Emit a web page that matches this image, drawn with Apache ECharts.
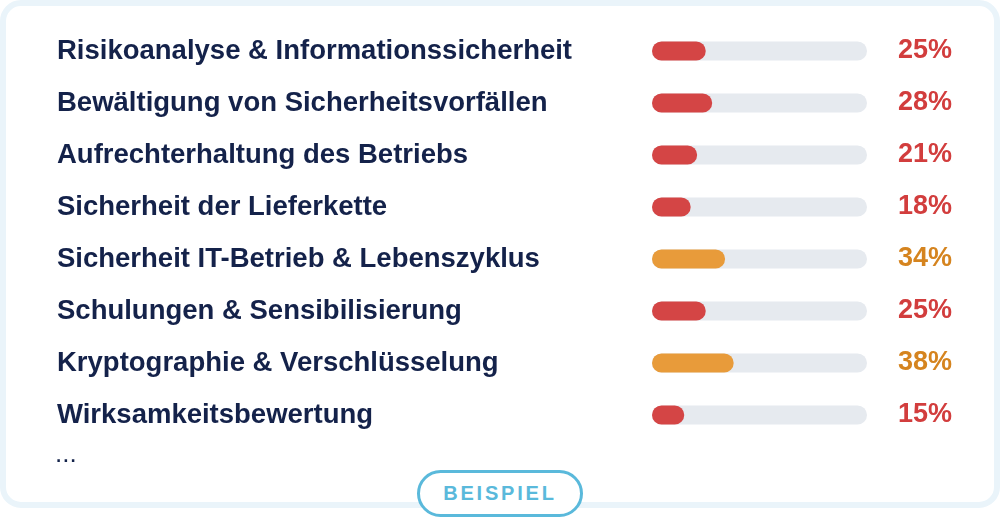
<!DOCTYPE html>
<html>
<head>
<meta charset="utf-8">
<script src="https://cdn.jsdelivr.net/npm/echarts@6/dist/echarts.min.js"></script>
<style>
html,body{margin:0;padding:0;background:#fff;}
#wrap{position:relative;width:1000px;height:518px;}
#chart{width:1000px;height:518px;}
.pill{position:absolute;left:417px;top:470px;width:160px;height:41px;border:3px solid #5ab9db;border-radius:24px;background:#fff;
  font:bold 20px "Liberation Sans",Arial,sans-serif;color:#5ab9db;letter-spacing:2.8px;text-align:center;line-height:41px;}
</style>
</head>
<body>
<div id="wrap">
  <div id="chart"></div>
  <div class="pill">BEISPIEL</div>
</div>
<script type="text/javascript">
// Kategorien und Werte (Prozent)
var categories = [
    'Risikoanalyse & Informationssicherheit',
    'Bewältigung von Sicherheitsvorfällen',
    'Aufrechterhaltung des Betriebs',
    'Sicherheit der Lieferkette',
    'Sicherheit IT-Betrieb & Lebenszyklus',
    'Schulungen & Sensibilisierung',
    'Kryptographie & Verschlüsselung',
    'Wirksamkeitsbewertung'
];
var values = [25, 28, 21, 18, 34, 25, 38, 15];
var valueLabels = values.map(function (v) { return v + '%'; });

function barColor(v) { return v >= 30 ? '#e89b3a' : '#d44545'; }
function textColor(v) { return v >= 30 ? '#d5841f' : '#d23d3d'; }

var myChart = echarts.init(document.getElementById('chart'));
var option = {
    animation: false,
    backgroundColor: '#fff',
    graphic: [
        {
            type: 'rect', z: -10, silent: true,
            shape: { x: 3, y: 3, width: 994, height: 502, r: 18 },
            style: { fill: '#fff', stroke: '#eaf4fa', lineWidth: 6 }
        },
        {
            type: 'text', left: 55, top: 442,
            style: { text: '...', font: '26px "Liberation Sans", Arial', fill: '#13234a' }
        }
    ],
    grid: { left: 652, right: 133, top: 25, height: 416 },
    xAxis: { type: 'value', min: 0, max: 100, show: false },
    yAxis: [
        {
            type: 'category', inverse: true, data: categories,
            axisLine: { show: false }, axisTick: { show: false },
            axisLabel: {
                align: 'left', margin: 595,
                fontFamily: '"Liberation Sans", Arial', fontWeight: 'bold', fontSize: 27.5, color: '#14224a'
            }
        },
        {
            type: 'category', inverse: true, position: 'right', data: valueLabels,
            axisLine: { show: false }, axisTick: { show: false },
            axisLabel: {
                align: 'right', margin: 85,
                fontFamily: '"Liberation Sans", Arial', fontWeight: 'bold', fontSize: 27,
                color: function (val, idx) { return textColor(values[idx]); }
            }
        }
    ],
    series: [
        {
            type: 'bar', yAxisIndex: 0, barWidth: 19,
            showBackground: true,
            backgroundStyle: { color: '#e6eaef', borderRadius: 10 },
            itemStyle: {
                borderRadius: 10,
                color: function (p) { return barColor(p.value); }
            },
            data: values
        }
    ]
};
myChart.setOption(option);
</script>
</body>
</html>
